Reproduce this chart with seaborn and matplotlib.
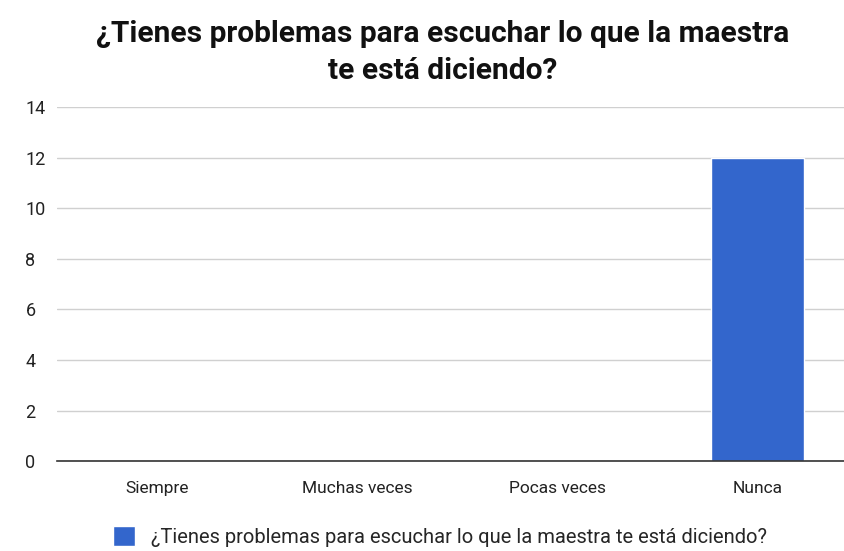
import pandas as pd
import seaborn as sns
import matplotlib
matplotlib.use("Agg", force=True)
import matplotlib.pyplot as plt

# data
categories = ["Siempre", "Muchas veces", "Pocas veces", "Nunca"]
values = [0, 0, 0, 12]
series_name = "¿Tienes problemas para escuchar lo que la maestra te está diciendo?"
title = "¿Tienes problemas para escuchar lo que la maestra\nte está diciendo?"
y_ticks = [0, 2, 4, 6, 8, 10, 12, 14]

df = pd.DataFrame({"categoria": categories, "valor": values, "serie": series_name})

sns.set_theme(style="white")
plt.rcParams["font.family"] = ["Roboto", "DejaVu Sans"]

fig = plt.figure(figsize=(8.44, 5.51), dpi=100)
ax = fig.add_axes([0.068, 0.163, 0.948, 0.643])

sns.barplot(data=df, x="categoria", y="valor", hue="serie", saturation=1,
            palette=["#3366cc"], width=0.465, ax=ax, legend=True)

ax.set_ylim(0, 14)
ax.set_xlim(-0.5, 3.5)
ax.set_yticks(y_ticks)
ax.yaxis.grid(True, color="#d0d0d0", linewidth=1)
ax.set_axisbelow(True)
ax.set(xlabel="", ylabel="")
for s in ["top", "right", "left"]:
    ax.spines[s].set_visible(False)
ax.spines["bottom"].set_color("#333333")
ax.spines["bottom"].set_linewidth(1.2)
ax.tick_params(axis="both", length=0)
ax.tick_params(axis="x", labelsize=12.5, pad=14, labelcolor="#222222")
ax.tick_params(axis="y", labelsize=13, pad=23, labelcolor="#222222")
for lab in ax.get_yticklabels():
    lab.set_horizontalalignment("left")

leg = ax.legend(loc="center", bbox_to_anchor=(0.521, 0.026), bbox_transform=fig.transFigure,
                frameon=False, fontsize=14.5, handlelength=1.1, handleheight=1.1,
                handletextpad=0.8, borderpad=0)

fig.suptitle(title, fontsize=21.5, fontweight="bold", y=0.963, x=0.525, color="#111111",
             linespacing=1.38)

fig.savefig("out.png", dpi=100, facecolor="white")
